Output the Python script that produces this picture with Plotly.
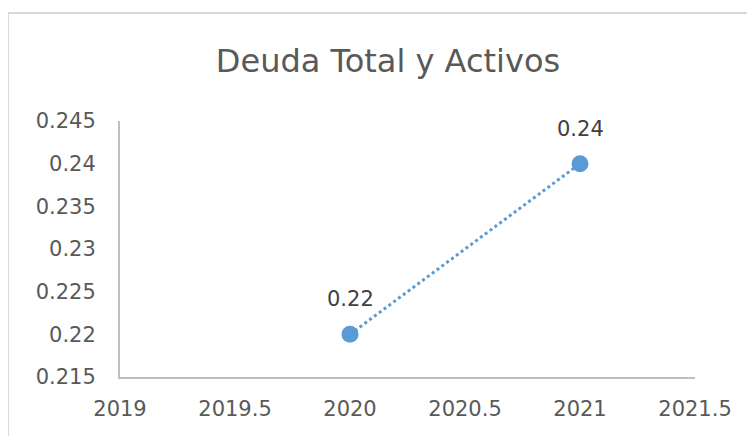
import plotly.graph_objects as go

# Datos
years = [2020, 2021]
ratio = [0.22, 0.24]
labels = ["0.22", "0.24"]

x_ticks = [2019, 2019.5, 2020, 2020.5, 2021, 2021.5]
y_ticks = [0.215, 0.22, 0.225, 0.23, 0.235, 0.24, 0.245]

blue = "#5b9bd5"
gray_txt = "#595959"
font_fam = "DejaVu Sans, Liberation Sans, sans-serif"

fig = go.Figure()
fig.add_trace(go.Scatter(
    x=years, y=ratio, mode="lines+markers",
    line=dict(color=blue, width=3, dash="dot"),
    marker=dict(color=blue, size=17),
    showlegend=False,
))

# etiquetas de datos encima de los puntos
for xv, yv, t in zip(years, ratio, labels):
    fig.add_annotation(x=xv, y=yv, text=t, showarrow=False, yshift=35,
                       font=dict(size=21, color="#404040", family=font_fam))

# borde del area del grafico
fig.add_shape(type="rect", xref="paper", yref="paper",
              x0=-0.1948, x1=1.3, y0=-0.4, y1=1.4219,
              line=dict(color="#d9d9d9", width=2), layer="below")

# la pagina tiene 8px de margen, por eso 747x428
fig.update_layout(
    width=747, height=428,
    margin=dict(l=112, r=60, t=113, b=59),
    paper_bgcolor="white", plot_bgcolor="white",
    font=dict(family=font_fam, size=21, color=gray_txt),
    title=dict(text="Deuda Total y Activos", x=0.5087, xanchor="center",
               y=0.876, yanchor="middle",
               font=dict(size=32, color=gray_txt)),
)
fig.update_xaxes(range=[2019, 2021.5], tickvals=x_ticks,
                 ticktext=[str(v) for v in x_ticks],
                 showgrid=False, zeroline=False,
                 showline=True, linecolor="#bfbfbf", linewidth=2,
                 ticks="", ticklabelstandoff=12)
fig.update_yaxes(range=[0.215, 0.245], tickvals=y_ticks,
                 ticktext=[("%g" % v) for v in y_ticks],
                 showgrid=False, zeroline=False,
                 showline=True, linecolor="#bfbfbf", linewidth=2,
                 ticks="", ticklabelstandoff=18)

fig.write_html("out.html")
